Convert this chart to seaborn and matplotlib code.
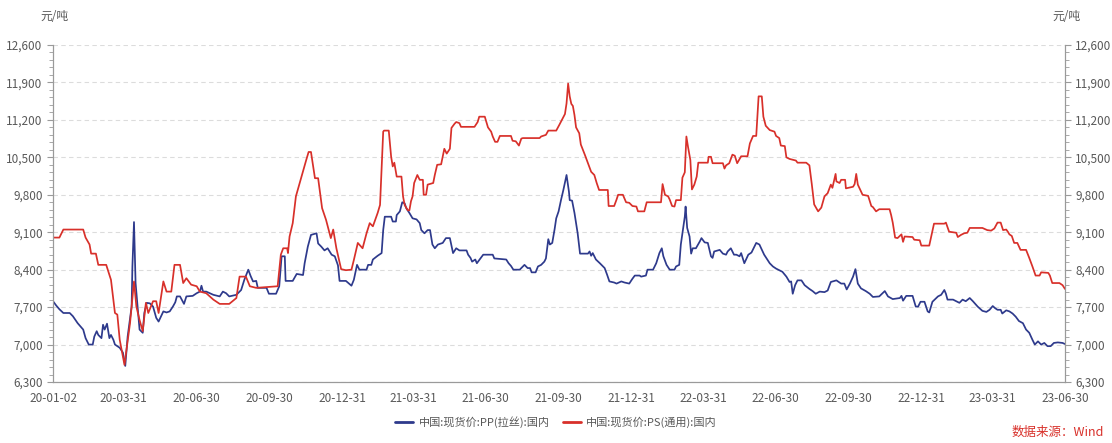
import pandas as pd
import seaborn as sns
import matplotlib.pyplot as plt
import matplotlib.dates as mdates
from matplotlib.lines import Line2D
from matplotlib.ticker import MultipleLocator, FuncFormatter

# days since 2020-01-02 and price (元/吨)
pp_days = [0, 4, 8, 13, 21, 25, 31, 38, 41, 45, 50, 52, 55, 57, 61, 63, 65, 68, 71, 73, 76, 78, 84, 88, 91,
           94, 99, 100, 102, 104, 107, 109, 113, 115, 118, 122, 126, 130, 133, 139, 143, 147, 151, 154, 156,
           160, 165, 168, 176, 181, 185, 187, 189, 193, 202, 210, 214, 218, 222, 231, 237, 241, 246, 249, 252,
           256, 258, 269, 272, 281, 285, 288, 292, 293, 302, 307, 315, 317, 321, 325, 332, 334, 338, 342, 346,
           351, 355, 359, 361, 369, 376, 379, 383, 386, 395, 397, 401, 403, 409, 414, 416, 418, 426, 428, 432,
           433, 437, 440, 443, 445, 449, 453, 458, 462, 464, 468, 472, 475, 478, 481, 485, 491, 495, 500, 504,
           508, 512, 521, 523, 526, 528, 532, 534, 538, 542, 554, 556, 571, 574, 577, 580, 588, 592, 594, 598,
           601, 603, 608, 611, 615, 619, 621, 624, 626, 629, 632, 634, 637, 640, 643, 647, 650, 651, 654, 657,
           661, 664, 674, 676, 678, 680, 684, 689, 695, 698, 701, 707, 710, 716, 720, 726, 730, 733, 739, 741,
           747, 749, 756, 760, 764, 767, 769, 773, 777, 783, 785, 789, 791, 793, 796, 797, 799, 802, 804, 806,
           810, 815, 817, 821, 825, 829, 831, 833, 840, 844, 848, 850, 854, 858, 861, 865, 867, 871, 876, 880,
           886, 890, 896, 903, 907, 911, 915, 919, 924, 928, 930, 932, 935, 938, 943, 947, 953, 957, 961, 966,
           972, 976, 980, 987, 993, 997, 1000, 1004, 1008, 1011, 1014, 1018, 1024, 1029, 1033, 1041, 1048, 1052,
           1058, 1067, 1069, 1071, 1075, 1083, 1087, 1090, 1093, 1098, 1102, 1104, 1108, 1115, 1119, 1123, 1125,
           1127, 1134, 1138, 1142, 1146, 1150, 1155, 1159, 1165, 1171, 1176, 1180, 1184, 1187, 1190, 1194, 1196,
           1201, 1205, 1209, 1213, 1217, 1222, 1226, 1230, 1234, 1237, 1241, 1245, 1249, 1253, 1257, 1261, 1266,
           1272, 1275]
pp_price = [7810, 7730, 7660, 7590, 7590, 7530, 7400, 7280, 7120, 7000, 7000, 7150, 7250, 7180, 7120, 7370, 7280,
            7390, 7120, 7180, 7090, 7000, 6940, 6850, 6600, 7150, 7710, 8460, 9290, 8150, 7620, 7280, 7220, 7590,
            7780, 7770, 7710, 7500, 7430, 7620, 7600, 7620, 7710, 7790, 7900, 7900, 7760, 7900, 7910, 7960, 7990,
            8100, 7990, 7990, 7930, 7900, 7990, 7960, 7900, 7930, 8020, 8210, 8400, 8280, 8180, 8190, 8060, 8060,
            7950, 7950, 8090, 8650, 8650, 8190, 8190, 8320, 8300, 8520, 8830, 9050, 9080, 8890, 8830, 8760, 8800,
            8680, 8650, 8480, 8190, 8190, 8100, 8210, 8490, 8400, 8400, 8490, 8490, 8590, 8660, 8710, 9140, 9390,
            9390, 9300, 9300, 9420, 9490, 9660, 9640, 9550, 9460, 9360, 9340, 9270, 9140, 9080, 9140, 9140, 8870,
            8800, 8870, 8900, 8990, 8990, 8710, 8800, 8760, 8760, 8680, 8620, 8550, 8590, 8520, 8600, 8680, 8680,
            8610, 8590, 8520, 8470, 8400, 8400, 8460, 8490, 8430, 8430, 8350, 8350, 8460, 8490, 8550, 8610, 8970,
            8870, 8900, 9160, 9360, 9490, 9700, 9890, 10170, 9860, 9700, 9690, 9460, 9080, 8700, 8700, 8740, 8660,
            8710, 8590, 8520, 8430, 8310, 8180, 8160, 8140, 8180, 8160, 8140, 8230, 8290, 8290, 8270, 8290, 8400,
            8400, 8520, 8710, 8800, 8650, 8490, 8400, 8400, 8460, 8490, 8870, 9080, 9390, 9580, 9180, 9020, 8700,
            8800, 8800, 8930, 8990, 8910, 8900, 8650, 8620, 8740, 8770, 8700, 8680, 8740, 8800, 8680, 8680, 8650,
            8710, 8520, 8680, 8720, 8900, 8870, 8680, 8520, 8460, 8420, 8390, 8360, 8270, 8170, 8180, 7950, 8110,
            8200, 8200, 8110, 8040, 8000, 7950, 7990, 7980, 8010, 8170, 8200, 8140, 8140, 8030, 8140, 8270, 8410,
            8140, 8050, 8000, 7950, 7890, 7900, 8000, 7900, 7850, 7870, 7910, 7820, 7910, 7910, 7710, 7710, 7800,
            7800, 7620, 7600, 7800, 7900, 7930, 8020, 7950, 7840, 7840, 7810, 7780, 7840, 7810, 7870, 7810, 7710,
            7630, 7610, 7650, 7720, 7680, 7650, 7650, 7580, 7640, 7620, 7580, 7520, 7440, 7400, 7280, 7220, 7090,
            7000, 7060, 7000, 7030, 6970, 6970, 7030, 7040, 7030, 7010]

ps_days = [0, 8, 13, 38, 41, 46, 48, 54, 57, 67, 73, 78, 81, 84, 90, 97, 102, 105, 109, 113, 117, 120, 126, 130,
           133, 139, 143, 149, 153, 160, 164, 168, 174, 181, 185, 193, 202, 210, 222, 231, 235, 243, 248, 256,
           283, 287, 290, 295, 296, 298, 302, 306, 313, 319, 322, 325, 330, 334, 339, 344, 350, 353, 357, 363,
           369, 376, 379, 384, 390, 395, 399, 403, 409, 412, 416, 417, 423, 426, 428, 430, 433, 439, 441, 443,
           447, 449, 451, 453, 455, 459, 462, 466, 467, 470, 472, 479, 481, 484, 489, 493, 496, 500, 502, 506,
           508, 512, 514, 531, 535, 537, 544, 546, 548, 552, 554, 557, 560, 563, 577, 579, 583, 587, 590, 592,
           613, 615, 621, 624, 634, 638, 645, 647, 649, 651, 653, 655, 657, 659, 663, 665, 670, 674, 678, 682,
           685, 688, 699, 700, 707, 710, 712, 718, 722, 726, 730, 735, 737, 745, 748, 766, 768, 771, 775, 777,
           780, 783, 785, 791, 793, 796, 798, 800, 803, 805, 808, 811, 813, 825, 826, 829, 831, 844, 846, 848,
           852, 856, 859, 862, 867, 875, 878, 882, 886, 889, 893, 895, 898, 903, 909, 911, 915, 917, 922, 924,
           928, 936, 938, 949, 953, 956, 959, 964, 968, 972, 976, 980, 982, 986, 987, 991, 993, 998, 999, 1008,
           1010, 1012, 1014, 1020, 1027, 1031, 1033, 1037, 1041, 1054, 1056, 1058, 1061, 1064, 1069, 1071, 1073,
           1083, 1085, 1092, 1094, 1104, 1110, 1123, 1125, 1129, 1138, 1140, 1144, 1148, 1152, 1155, 1171, 1177,
           1182, 1186, 1190, 1194, 1197, 1201, 1203, 1205, 1208, 1211, 1215, 1219, 1226, 1230, 1234, 1238, 1243,
           1245, 1254, 1256, 1259, 1268, 1272, 1275]
ps_price = [9000, 9000, 9150, 9150, 9000, 8870, 8700, 8700, 8490, 8490, 8210, 7590, 7560, 7090, 6620, 7400, 8180,
            7710, 7460, 7250, 7780, 7590, 7810, 7810, 7590, 8180, 7990, 7990, 8490, 8490, 8150, 8240, 8120, 8090,
            7990, 7960, 7840, 7760, 7760, 7870, 8270, 8270, 8090, 8060, 8090, 8680, 8800, 8800, 8710, 9020, 9270,
            9770, 10140, 10450, 10600, 10600, 10110, 10110, 9550, 9330, 8990, 9150, 8800, 8410, 8390, 8400, 8580,
            8900, 8800, 9080, 9270, 9210, 9460, 9610, 10980, 11000, 11000, 10510, 10330, 10400, 10140, 10140, 9770,
            9610, 9510, 9510, 9680, 9770, 10020, 10170, 10080, 10080, 9800, 9800, 9990, 10020, 10170, 10360, 10370,
            10660, 10570, 10660, 11050, 11130, 11160, 11140, 11070, 11070, 11160, 11260, 11260, 11160, 11060, 10980,
            10890, 10790, 10790, 10900, 10900, 10810, 10800, 10720, 10850, 10860, 10860, 10890, 10920, 11000, 11000,
            11110, 11310, 11510, 11880, 11640, 11500, 11460, 11290, 11060, 10950, 10740, 10550, 10390, 10230, 10170,
            10020, 9890, 9890, 9590, 9590, 9710, 9800, 9800, 9660, 9650, 9590, 9580, 9490, 9490, 9660, 9660, 10000,
            9800, 9770, 9710, 9590, 9580, 9700, 9700, 10120, 10220, 10890, 10700, 10450, 9900, 9990, 10140, 10400,
            10400, 10510, 10510, 10390, 10390, 10290, 10350, 10390, 10550, 10530, 10390, 10520, 10520, 10760, 10900,
            10900, 11640, 11640, 11260, 11090, 11010, 10980, 10900, 10860, 10720, 10710, 10500, 10470, 10440, 10400,
            10400, 10350, 10000, 9620, 9490, 9560, 9770, 9830, 9990, 9930, 10190, 10050, 10020, 10080, 10080, 9920,
            9950, 10000, 10190, 9990, 9800, 9780, 9590, 9570, 9490, 9530, 9530, 9420, 9280, 9000, 8990, 9060, 8920,
            9020, 9010, 8960, 8950, 8850, 8850, 9260, 9260, 9280, 9110, 9090, 9010, 9050, 9080, 9090, 9180, 9180,
            9140, 9130, 9170, 9280, 9280, 9140, 9150, 9110, 9060, 9030, 8900, 8900, 8770, 8770, 8620, 8460, 8290,
            8290, 8350, 8340, 8290, 8150, 8150, 8110, 8040]

series_names = ["中国:现货价:PP(拉丝):国内", "中国:现货价:PS(通用):国内"]
colors = ["#2E3A8C", "#D8302A"]
y_ticks = [6300, 7000, 7700, 8400, 9100, 9800, 10500, 11200, 11900, 12600]
x_tick_dates = ["2020-01-02", "2020-03-31", "2020-06-30", "2020-09-30", "2020-12-31", "2021-03-31",
                "2021-06-30", "2021-09-30", "2021-12-31", "2022-03-31", "2022-06-30", "2022-09-30",
                "2022-12-31", "2023-03-31", "2023-06-30"]

start = pd.Timestamp("2020-01-02")
pp = pd.DataFrame({"date": start + pd.to_timedelta(pp_days, unit="D"), "price": pp_price})
ps = pd.DataFrame({"date": start + pd.to_timedelta(ps_days, unit="D"), "price": ps_price})

sns.set_style("white")
plt.rcParams["font.family"] = ["Noto Sans CJK SC", "DejaVu Sans"]
text_color = "#595959"
axis_color = "#9a9a9a"

fig = plt.figure(figsize=(11.12, 4.43), dpi=100)
ax = fig.add_axes([0.0477, 0.1377, 0.91, 0.7607])

sns.lineplot(data=pp, x="date", y="price", ax=ax, color=colors[0], lw=1.25, estimator=None)
sns.lineplot(data=ps, x="date", y="price", ax=ax, color=colors[1], lw=1.25, estimator=None)

ax.set_xlim(start, pd.Timestamp("2023-06-30"))
ax.set_ylim(y_ticks[0], y_ticks[-1])
ax.set_yticks(y_ticks)
ax.yaxis.set_minor_locator(MultipleLocator(140))
fmt = FuncFormatter(lambda v, p: f"{v:,.0f}")
ax.yaxis.set_major_formatter(fmt)
ax.set_xticks(pd.to_datetime(x_tick_dates))
ax.xaxis.set_major_formatter(mdates.DateFormatter("%y-%m-%d"))
ax.set_xticks(pd.date_range("2020-01-31", "2023-06-30", freq="ME"), minor=True)
ax.set_xlabel("")
ax.set_ylabel("")
ax.grid(axis="y", color="#dcdcdc", linestyle=(0, (4, 3)), lw=0.8)

ax2 = ax.twinx()
ax2.set_ylim(y_ticks[0], y_ticks[-1])
ax2.set_yticks(y_ticks)
ax2.yaxis.set_minor_locator(MultipleLocator(140))
ax2.yaxis.set_major_formatter(fmt)

for a in (ax, ax2):
    a.spines["top"].set_visible(False)
    for s in ("left", "right", "bottom"):
        a.spines[s].set_color(axis_color)
    a.tick_params(which="both", colors=axis_color, labelcolor=text_color, labelsize=8.5, direction="out")
    a.tick_params(which="major", length=4)
    a.tick_params(which="minor", length=3)
ax.tick_params(axis="x", which="both", length=4)

fig.text(0.036, 0.955, "元/吨", fontsize=8.5, color=text_color)
fig.text(0.946, 0.955, "元/吨", fontsize=8.5, color=text_color)

handles = [Line2D([], [], color=c, lw=2) for c in colors]
fig.legend(handles, series_names, loc="center", bbox_to_anchor=(0.5, 0.047), ncol=2, frameon=False,
           fontsize=8, handlelength=1.6, handletextpad=0.5, columnspacing=1.2, labelcolor=text_color)
fig.text(0.993, 0.01, "数据来源：Wind", fontsize=9, color="#D8302A", ha="right", va="bottom")

fig.savefig("out.png", dpi=100)
